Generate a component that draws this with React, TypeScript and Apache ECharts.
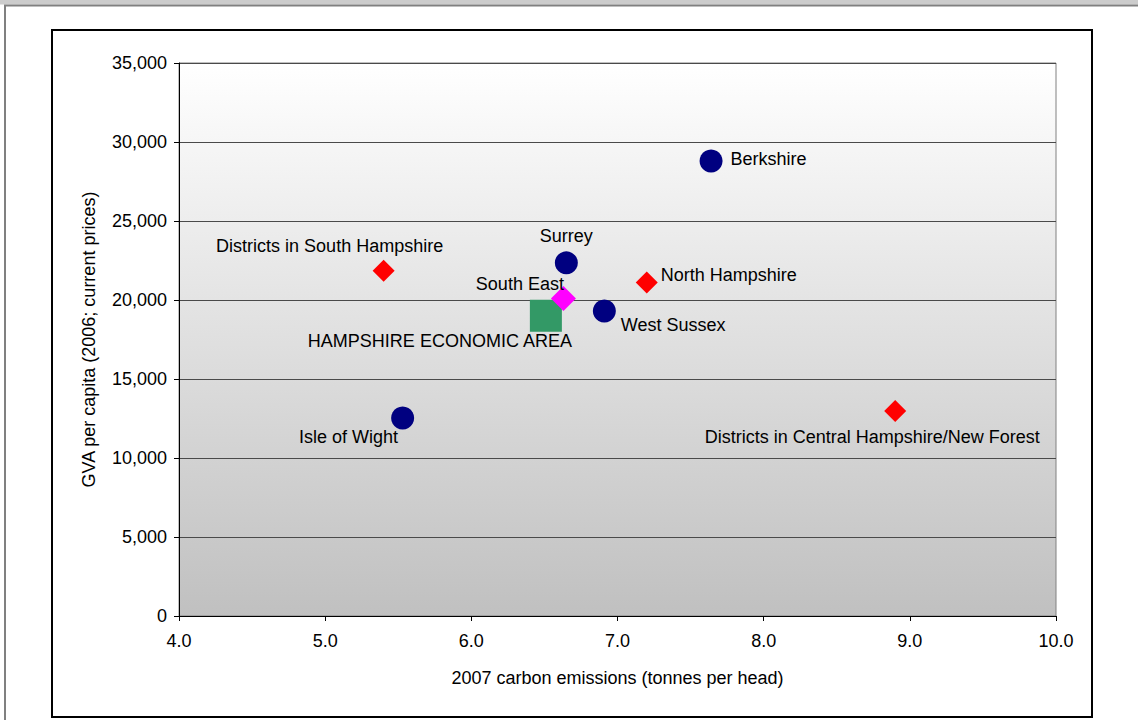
import React, { useEffect, useRef } from "react";
import * as echarts from "echarts";

// ---- Data ----
const countyNames = ["Berkshire", "Surrey", "West Sussex", "Isle of Wight"];
const countyEmissions = [7.64, 6.65, 6.91, 5.53];
const countyGva = [28800, 22350, 19300, 12530];

const districtNames = [
  "Districts in South Hampshire",
  "North Hampshire",
  "Districts in Central Hampshire/New Forest",
];
const districtEmissions = [5.4, 7.2, 8.9];
const districtGva = [21850, 21100, 12970];

const regionNames = ["South East"];
const regionEmissions = [6.63];
const regionGva = [20100];

const areaNames = ["HAMPSHIRE ECONOMIC AREA"];
const areaEmissions = [6.51];
const areaGva = [19000];

const xTicks = { min: 4, max: 10, interval: 1 };
const yTicks = { min: 0, max: 35000, interval: 5000 };

// ---- Label placement (layout only) ----
const labelLayout: Record<string, any> = {
  Berkshire: { position: "right", distance: 8, offset: [0, -2] },
  Surrey: { position: "top", distance: 6, offset: [0, 0] },
  "West Sussex": { position: "right", distance: 5, offset: [0, 14] },
  "Isle of Wight": { position: "left", distance: 0, offset: [7, 19] },
  "South East": { position: "left", distance: 0, offset: [13, -14] },
  "HAMPSHIRE ECONOMIC AREA": { position: "bottom", distance: 0, offset: [-106, 0] },
  "Districts in South Hampshire": { position: "top", distance: 5, offset: [-54, 0] },
  "North Hampshire": { position: "right", distance: 3, offset: [0, -8] },
  "Districts in Central Hampshire/New Forest": { position: "bottom", distance: 6, offset: [-23, 0] },
};

const FONT = "'Liberation Sans', Arial, sans-serif";
const FS = 18;

function build(names: string[], xs: number[], ys: number[]) {
  return names.map((n, i) => ({
    name: n,
    value: [xs[i], ys[i]],
    label: { show: true, formatter: "{b}", color: "#000", fontFamily: FONT, fontSize: FS, ...labelLayout[n] },
  }));
}

export default function App() {
  const ref = useRef<HTMLDivElement>(null);
  useEffect(() => {
    if (!ref.current) return;
    const chart = echarts.init(ref.current, undefined, { renderer: "svg" });
    chart.setOption({
      animation: false,
      backgroundColor: "#ffffff",
      textStyle: { fontFamily: FONT },
      graphic: [
        { type: "rect", shape: { x: 0, y: 0, width: 1138, height: 4.5 }, style: { fill: "#cccccc" }, silent: true },
        { type: "line", shape: { x1: 4, y1: 5.5, x2: 1138, y2: 5.5 }, style: { stroke: "#808080", lineWidth: 2 }, silent: true },
        { type: "line", shape: { x1: 5, y1: 5, x2: 5, y2: 720 }, style: { stroke: "#808080", lineWidth: 2 }, silent: true },
        { type: "rect", shape: { x: 52, y: 30, width: 1040, height: 687 }, style: { fill: "none", stroke: "#000", lineWidth: 2 }, silent: true, z: 10 },
      ],
      grid: {
        left: 179,
        right: 82,
        top: 63,
        bottom: 104,
        show: true,
        borderColor: "#808080",
        borderWidth: 1,
        backgroundColor: {
          type: "linear",
          x: 0,
          y: 0,
          x2: 0,
          y2: 1,
          colorStops: [
            { offset: 0, color: "#ffffff" },
            { offset: 1, color: "#c0c0c0" },
          ],
        },
      },
      xAxis: {
        type: "value",
        min: xTicks.min,
        max: xTicks.max,
        interval: xTicks.interval,
        name: "2007 carbon emissions (tonnes per head)",
        nameLocation: "middle",
        nameGap: 53,
        nameTextStyle: { color: "#000", fontSize: FS, fontFamily: FONT },
        axisLine: { show: true, onZero: false, lineStyle: { color: "#000", width: 1 } },
        axisTick: { show: true, length: 5, lineStyle: { color: "#000" } },
        axisLabel: { color: "#000", fontSize: FS, fontFamily: FONT, margin: 16, formatter: (v: number) => v.toFixed(1) },
        splitLine: { show: false },
      },
      yAxis: {
        type: "value",
        min: yTicks.min,
        max: yTicks.max,
        interval: yTicks.interval,
        name: "GVA per capita (2006; current prices)",
        nameLocation: "middle",
        nameGap: 81,
        nameTextStyle: { color: "#000", fontSize: FS, fontFamily: FONT },
        axisLine: { show: true, lineStyle: { color: "#000", width: 1 } },
        axisTick: { show: true, length: 5, lineStyle: { color: "#000" } },
        axisLabel: { color: "#000", fontSize: FS, fontFamily: FONT, margin: 12, formatter: (v: number) => v.toLocaleString("en-US") },
        splitLine: { show: true, lineStyle: { color: "#4a4a4a", width: 1 } },
      },
      series: [
        {
          type: "scatter",
          name: "Counties",
          symbol: "circle",
          symbolSize: 23,
          itemStyle: { color: "#000080", opacity: 1 },
          data: build(countyNames, countyEmissions, countyGva),
        },
        {
          type: "scatter",
          name: "Districts",
          symbol: "diamond",
          symbolSize: 22,
          itemStyle: { color: "#ff0000", opacity: 1 },
          data: build(districtNames, districtEmissions, districtGva),
        },
        {
          type: "scatter",
          name: "Hampshire Economic Area",
          symbol: "rect",
          symbolSize: 32,
          itemStyle: { color: "#339966", opacity: 1 },
          data: build(areaNames, areaEmissions, areaGva),
        },
        {
          type: "scatter",
          name: "South East",
          symbol: "diamond",
          symbolSize: 25,
          itemStyle: { color: "#ff00ff", opacity: 1 },
          data: build(regionNames, regionEmissions, regionGva),
        },
      ],
    });
    return () => chart.dispose();
  }, []);
  return (
    <div
      ref={ref}
      style={{ position: "absolute", left: 0, top: 0, width: 1138, height: 720 }}
    />
  );
}
